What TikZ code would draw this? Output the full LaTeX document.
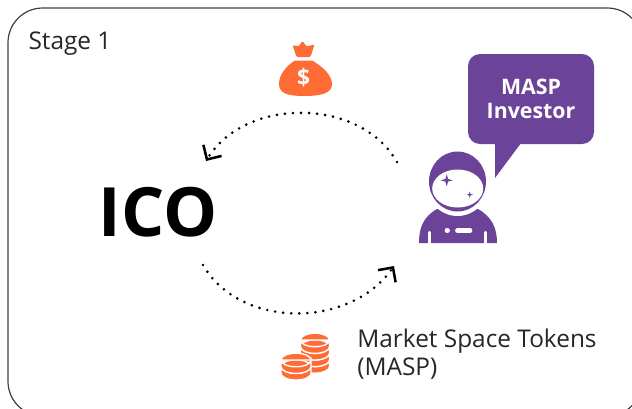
\documentclass[tikz,border=0pt]{standalone}
\usepackage{fontspec}
\setmainfont{Open Sans}
\usetikzlibrary{arrows.meta, positioning, shapes.geometric}
\definecolor{maspviolet}{HTML}{6B4499}
\definecolor{masporange}{HTML}{FF6B35}

% one coin of a stack, x y are the centre of its top face
\newcommand{\coinpart}[3]{
	\filldraw[coin] (#1-#3,#2) -- (#1-#3,#2+6.6) arc (180:0:#3 and 6.8) -- (#1+#3,#2)
	arc (0:360:#3 and 6.8) -- cycle;
}

\begin{document}
\begin{tikzpicture}[x=0.75pt, y=-0.75pt]
\tikzset{
frame/.style={draw=black!75, line width=0.9pt, rounded corners=26pt}, % outer box
flow/.style={line width=2.2pt, line cap=round, dash pattern=on 0pt off 6.05pt, -{Straight Barb[length=8pt, width=16pt, line width=1.9pt]}}, % dotted arcs
speech/.style={fill=maspviolet, rounded corners=9pt, minimum width=94.5pt, minimum height=67.5pt, text=white, align=center, font=\fontsize{16}{17.5}\selectfont\bfseries},
caption/.style={text=black!85, align=left, font=\fontsize{18.3}{20.8}\selectfont},
sparkle/.style={fill=maspviolet, star, star points=4, star point ratio=3.2, inner sep=0pt},
gap/.style={white, line cap=round},
coin/.style={fill=masporange, draw=white, line width=1pt},
}
	\clip (0,0) rectangle (632,408);
	\draw[frame] (8,8) rectangle (642,416);
	\node[caption] (stage) at (70,44) {Stage 1};
	\node[font=\fontsize{51}{51}\selectfont\bfseries] (ico) at (158,212) {ICO};

	% speech bubble
	\fill[maspviolet] (495,135) -- (495,178) -- (527,135) -- cycle;
	\node[speech] (bubble) at (531,99) {MASP\\Investor};

	% astronaut
	\fill[maspviolet] (419,243) .. controls (419,228) and (423,217) .. (437,209) -- (478,209)
	.. controls (492,217) and (497,228) .. (497,243) -- cycle;
	\fill[white] (457.5,181.5) ellipse (32 and 34.5);
	\fill[maspviolet] (457.5,181.5) ellipse (28.5 and 30);
	\fill[white] (457.7,188.5) ellipse (25.5 and 19);
	\node[sparkle, minimum size=9pt] (bigstar) at (446.7,180.3) {};
	\node[sparkle, minimum size=5pt] (smallstar) at (469.7,194.7) {};
	\draw[gap, line width=2.6pt] (429.3,232.5) -- (429.3,246);
	\draw[gap, line width=2.6pt] (485.5,232.5) -- (485.5,246);
	\draw[gap, line width=3.6pt] (447,230.7) -- (447.5,230.7);
	\draw[gap, line width=3.6pt] (457.5,230.7) -- (470,230.7);

	% money bag
	\fill[masporange] (295,60.5) -- (312,60.5) .. controls (322,66) and (332,75) .. (332,84)
	.. controls (332,93) and (322,96) .. (304,96) .. controls (287,96) and (279,93) .. (279,84)
	.. controls (279,75) and (286,66) .. (295,60.5) -- cycle;
	\fill[masporange, rounded corners=1pt] (296.5,57) -- (292.5,45) -- (298.5,46.5) -- (302.5,41) -- (306.5,46.5) -- (314.5,44.5) -- (310.5,57) -- cycle;
	\node[text=white, font=\fontsize{17}{17}\selectfont\bfseries] (dollar) at (303.7,77.5) {\$};

	% coins
	\foreach \y in {359.8,353.2,346.6,340} {\coinpart{315}{\y}{14.5}}
	\foreach \y in {366.6,360} {\coinpart{296}{\y}{15}}
	\coordinate (coins) at (305,354.5);
	\node[caption, right of=coins, node distance=129pt] (tokens) {Market Space Tokens\\(MASP)};

	% arcs end on named points
	\coordinate (invtop) at (397,162);
	\coordinate (icotop) at (206,161);
	\coordinate (icobot) at (203,265);
	\coordinate (invbot) at (394,266);
	\draw[flow] (invtop) .. controls (360,97) and (245,97) .. (icotop);
	\draw[flow] (icobot) .. controls (240,329) and (350,329) .. (invbot);
\end{tikzpicture}
\end{document}
